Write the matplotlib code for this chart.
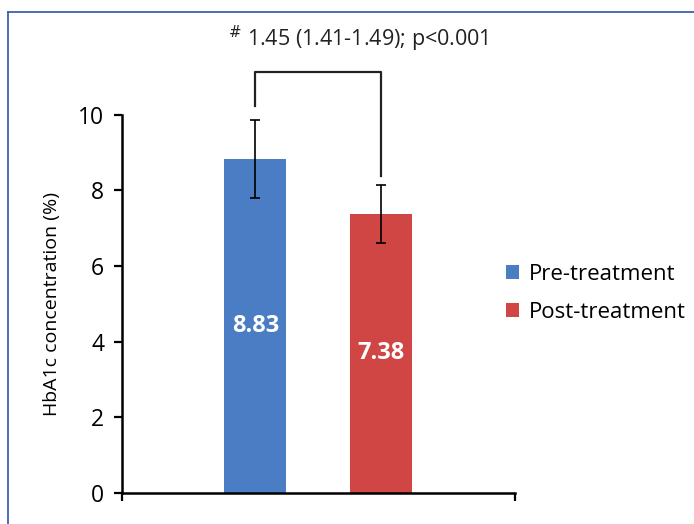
import numpy as np
import matplotlib.pyplot as plt
from matplotlib.lines import Line2D

labels = ["Pre-treatment", "Post-treatment"]
means = [8.83, 7.38]
errs = [1.02, 0.77]
colors = ["#4A7DC3", "#CF4644"]
note = "1.45 (1.41-1.49); p<0.001"

plt.rcParams['font.family'] = ['Open Sans', 'DejaVu Sans']

fig = plt.figure(figsize=(6.94, 5.24), dpi=100)
ax = fig.add_axes([0.176, 0.059, 0.566, 0.722])

xs = np.array([0, 1])
for x, m, e, c, lab in zip(xs, means, errs, colors, labels):
    ax.bar(x, m, width=0.49, color=c, label=lab, zorder=2)
    ax.errorbar(x, m, yerr=e, color="black", lw=1.2, capsize=3.5, capthick=1.2, zorder=3)
    ax.text(x, m / 2, "%.2f" % m, color="white", fontsize=17, fontweight="bold",
            ha="center", va="center", zorder=4)

# significance bracket
top = 11.14
ax.plot([0, 0, 1, 1], [means[0] + errs[0] + 0.38, top, top, means[1] + errs[1] + 0.24],
        color="#222222", lw=1.6, clip_on=False)
ax.text(0.82, 12.0, "$^{\\#}$ " + note, ha="center", va="center", fontsize=15.5,
        color="#222222")

ax.set_xlim(-1.056, 2.06)
ax.set_ylim(0, 10)
ax.set_yticks([0, 2, 4, 6, 8, 10])
ax.set_xticks([-1.056, 2.06])
ax.set_xticklabels([])
ax.tick_params(axis="both", direction="out", length=6, width=1.6, labelsize=16.5, pad=7)
for s in ["top", "right"]:
    ax.spines[s].set_visible(False)
for s in ["left", "bottom"]:
    ax.spines[s].set_linewidth(1.8)
ax.set_ylabel("HbA1c concentration (%)", fontsize=14, labelpad=12)

fig.legend(loc="center left", bbox_to_anchor=(0.70, 0.44), frameon=False, fontsize=16,
           handlelength=0.6, handleheight=0.6, handletextpad=0.45, labelspacing=0.75)

# frame lines on top and left of the figure
fig.add_artist(Line2D([0.0115, 1.0], [0.978, 0.978], color="#3F5FAF", lw=1.3))
fig.add_artist(Line2D([0.0115, 0.0115], [0.0, 0.978], color="#3F5FAF", lw=1.3))

fig.savefig("out.png", dpi=100)
